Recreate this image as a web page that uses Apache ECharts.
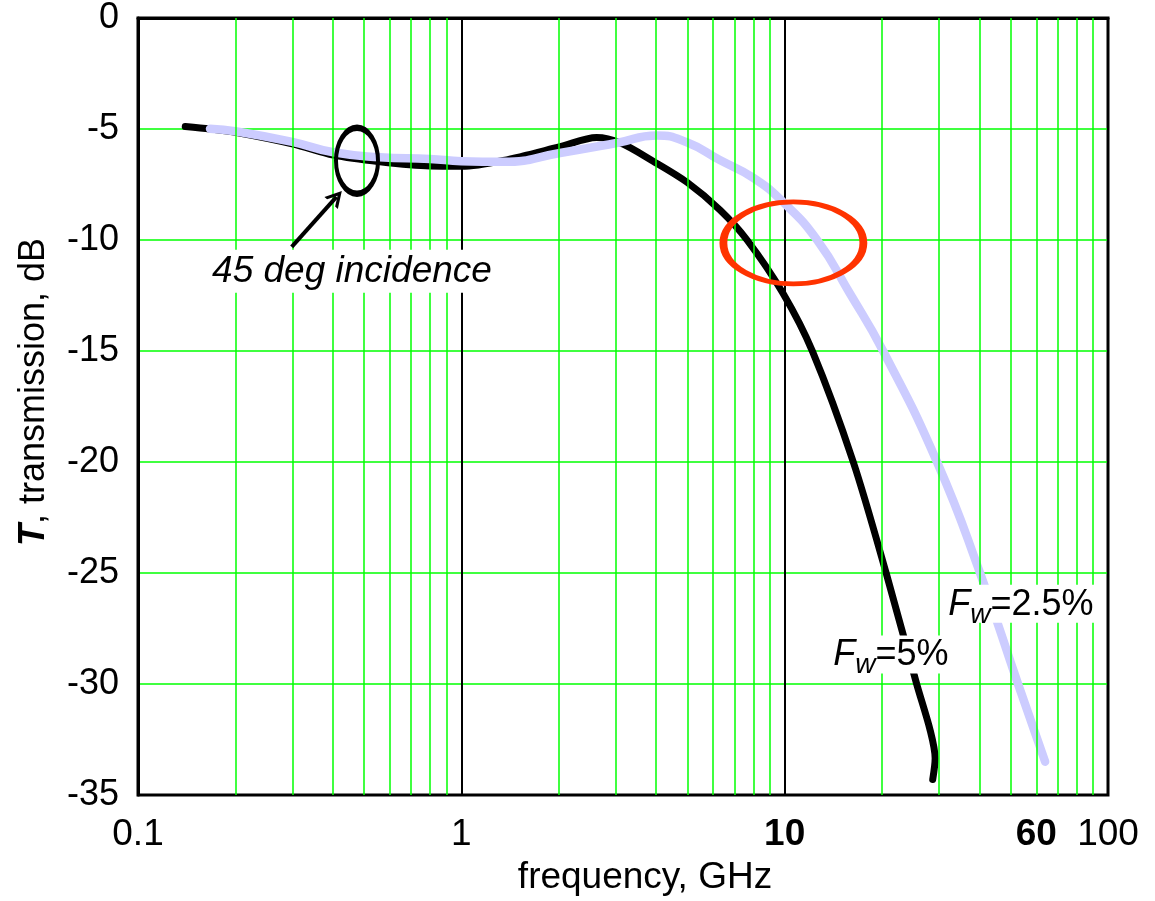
<!DOCTYPE html>
<html lang="en">
<head>
  <meta charset="UTF-8">
  <title>Transmission vs frequency</title>
  <script src="https://cdn.jsdelivr.net/npm/echarts@6.0.0/dist/echarts.min.js"></script>
  <style>
    body {
      margin: 0;
      padding: 0;
      background-color: #fff;
    }
    #chart {
      width: 1155px;
      height: 901px;
    }
  </style>
</head>
<body>
  <div id="chart"></div>

  <script>
    // Fw = 5% curve (black)
    var fw5Freq = [0.14, 0.167, 0.202, 0.302, 0.402, 0.56, 0.80, 1.0, 1.35, 2.02, 2.62, 3.1, 3.92, 4.99, 6.31, 7.65, 9.88, 12.2, 16.3, 20.6, 25.6, 28.2, 29.2, 28.7];
    var fw5Db = [-4.89, -5.0, -5.16, -5.68, -6.18, -6.48, -6.67, -6.68, -6.42, -5.8, -5.38, -5.62, -6.45, -7.4, -8.65, -10.0, -12.4, -15.03, -20.0, -25.0, -30.0, -32.1, -33.35, -34.3];

    // Fw = 2.5% curve (lavender)
    var fw25Freq = [0.167, 0.202, 0.302, 0.402, 0.56, 0.80, 1.0, 1.35, 2.02, 3.02, 4.02, 4.98, 6.3, 8.0, 9.9, 12.6, 15.9, 20.16, 29.6, 40.2, 52.7, 63.9];
    var fw25Db = [-4.99, -5.11, -5.59, -6.05, -6.27, -6.35, -6.45, -6.48, -6.08, -5.63, -5.29, -5.6, -6.4, -7.2, -8.3, -10.0, -12.4, -15.0, -20.0, -25.0, -30.0, -33.5];

    // axis ticks
    var xTickLabels = ['0.1', '1', '10', '100'];
    var xBoldLabels = ['10', '60'];
    var xExtraTick = 60;
    var minorGridFreq = [0.2, 0.3, 0.4, 0.5, 0.6, 0.7, 0.8, 0.9,
                         2, 3, 4, 5, 6, 7, 8, 9,
                         20, 30, 40, 50, 60, 70, 80, 90];

    var font = '"Liberation Sans", Arial, sans-serif';

    function pairs(xs, ys) {
      return xs.map(function (x, i) { return [x, ys[i]]; });
    }

    function boldIf(s) {
      return xBoldLabels.indexOf(s) >= 0 ? '{b|' + s + '}' : s;
    }

    var chart = echarts.init(document.getElementById('chart'));

    // rich text for the F_w labels
    var fwRich = {
      f: { fontFamily: font, fontSize: 36, color: '#000', fontStyle: 'italic', lineHeight: 36, verticalAlign: 'top' },
      n: { fontFamily: font, fontSize: 36, color: '#000', lineHeight: 36, verticalAlign: 'top' },
      w: { fontFamily: font, fontSize: 28, color: '#000', fontStyle: 'italic', lineHeight: 28, verticalAlign: 'top', padding: [14, 0, 0, 0] }
    };
    var boldRich = { b: { fontFamily: font, fontSize: 37, fontWeight: 'bold', color: '#000' } };

    var hidden = { color: 'rgba(0,0,0,0)' };

    chart.setOption({
      animation: false,
      grid: {
        left: 138,
        right: 47,
        top: 12,
        bottom: 104,
        show: true,
        borderColor: '#000',
        borderWidth: 3,
        backgroundColor: '#fff'
      },
      xAxis: {
        type: 'log',
        logBase: 10,
        min: 0.1,
        max: 100,
        name: 'frequency, GHz',
        nameLocation: 'middle',
        nameGap: 64,
        nameTextStyle: { fontFamily: font, fontSize: 37, color: '#000', padding: [0, 0, 0, 44] },
        axisLine: { show: true, lineStyle: { color: '#000', width: 3 } },
        axisTick: { show: false },
        axisLabel: {
          margin: 21,
          fontFamily: font,
          fontSize: 37,
          color: '#000',
          formatter: function (v) {
            var i = Math.round(Math.log(v) / Math.LN10) + 1;
            return boldIf(xTickLabels[i]);
          },
          rich: boldRich
        },
        splitLine: { show: true, lineStyle: { color: '#000', width: 2 } }
      },
      yAxis: {
        type: 'value',
        min: -35,
        max: 0,
        interval: 5,
        name: '{t|T}, transmission, dB',
        nameLocation: 'middle',
        nameGap: 86,
        nameTextStyle: {
          fontFamily: font,
          fontSize: 36,
          color: '#000',
          padding: [0, 0, 0, 29],
          rich: { t: { fontFamily: font, fontSize: 36, fontWeight: 'bold', fontStyle: 'italic', color: '#000' } }
        },
        axisLine: { show: true, lineStyle: { color: '#000', width: 3 } },
        axisTick: { show: false },
        axisLabel: { margin: 19, fontFamily: font, fontSize: 36, color: '#000' },
        splitLine: { show: true, showMinLine: false, showMaxLine: false, lineStyle: { color: '#00ff00', width: 1.5 } }
      },
      series: [
        {
          // minor log grid lines (2..9 of each decade)
          type: 'line',
          data: [],
          z: 1,
          silent: true,
          markLine: {
            silent: true,
            symbol: 'none',
            label: { show: false },
            lineStyle: { color: '#00ff00', width: 1.5, type: 'solid' },
            data: minorGridFreq.map(function (v) {
              var item = { xAxis: v };
              if (v === xExtraTick) {
                item.label = {
                  show: true,
                  position: 'start',
                  distance: 21,
                  formatter: boldIf(String(xExtraTick)),
                  fontFamily: font,
                  fontSize: 37,
                  color: '#000',
                  rich: boldRich
                };
              }
              return item;
            })
          }
        },
        {
          name: 'Fw=5%',
          type: 'line',
          data: pairs(fw5Freq, fw5Db),
          z: 3,
          smooth: 0.3,
          showSymbol: false,
          lineStyle: { color: '#000', width: 7, cap: 'round' }
        },
        {
          name: 'Fw=2.5%',
          type: 'line',
          data: pairs(fw25Freq, fw25Db),
          z: 4,
          smooth: 0.5,
          showSymbol: false,
          lineStyle: { color: '#ccccff', width: 8.5, cap: 'round' }
        },
        {
          // annotations
          type: 'line',
          data: [],
          z: 10,
          silent: true,
          markPoint: {
            silent: true,
            data: [
              {
                coord: [0.4757, -6.43],
                symbol: 'circle',
                symbolSize: [42, 66],
                itemStyle: { color: 'rgba(0,0,0,0)', borderColor: '#000', borderWidth: 5 },
                label: { show: false }
              },
              {
                coord: [10.64, -10.13],
                symbol: 'circle',
                symbolSize: [140, 82],
                itemStyle: { color: 'rgba(0,0,0,0)', borderColor: '#ff3300', borderWidth: 6 },
                label: { show: false }
              },
              {
                coord: [0.459, -11.41],
                symbol: 'rect',
                symbolSize: 1,
                itemStyle: hidden,
                label: {
                  show: true,
                  position: 'inside',
                  formatter: '45 deg incidence',
                  fontFamily: font,
                  fontSize: 37,
                  fontStyle: 'italic',
                  color: '#000',
                  backgroundColor: '#fff',
                  padding: [3, 2, 3, 2]
                }
              },
              {
                coord: [21.3, -28.67],
                symbol: 'rect',
                symbolSize: 1,
                itemStyle: hidden,
                label: {
                  show: true,
                  position: 'inside',
                  formatter: '{f|F}{w|w}{n|=5%}',
                  backgroundColor: '#fff',
                  padding: [2, 3, 0, 3],
                  rich: fwRich
                }
              },
              {
                coord: [53.8, -26.39],
                symbol: 'rect',
                symbolSize: 1,
                itemStyle: hidden,
                label: {
                  show: true,
                  position: 'inside',
                  formatter: '{f|F}{w|w}{n|=2.5%}',
                  backgroundColor: '#fff',
                  padding: [2, 3, 0, 3],
                  rich: fwRich
                }
              }
            ]
          },
          markLine: {
            silent: true,
            symbol: ['none', 'path://M0,10 L5,0 L10,10 L8,10 L5,4 L2,10 Z'],
            symbolSize: [18, 16],
            label: { show: false },
            lineStyle: { color: '#000', width: 4, type: 'solid' },
            data: [
              [{ coord: [0.2988, -10.31] }, { coord: [0.411, -8.06] }]
            ]
          }
        }
      ]
    });
  </script>
</body>
</html>
